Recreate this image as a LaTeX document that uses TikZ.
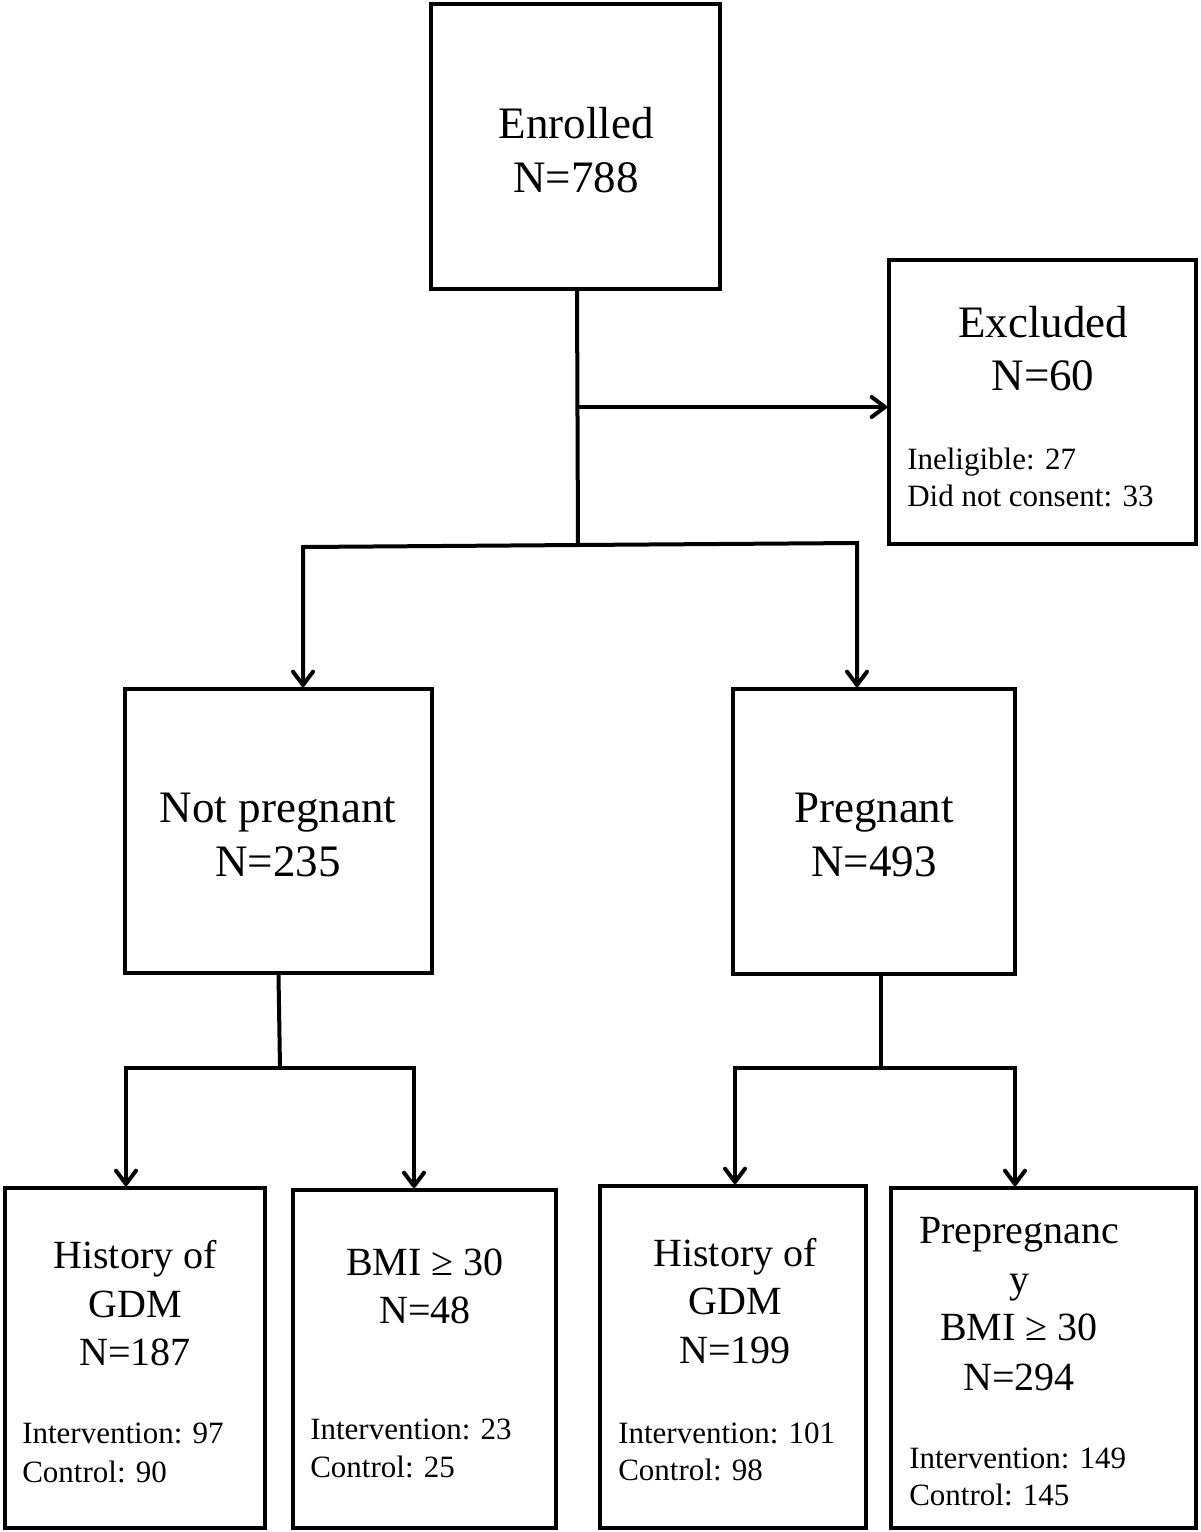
\documentclass[tikz,border=0pt]{standalone}
\usepackage{fontspec}
\setmainfont{Liberation Serif}
\usetikzlibrary{arrows.meta,fit}
\begin{document}
\begin{tikzpicture}[x=0.75pt,y=-0.75pt,
  box/.style={draw, line width=3pt, inner sep=0pt},
  conn/.style={line width=3pt},
  arr/.style={conn, -{Straight Barb[length=10pt,width=15pt,line cap=round,line join=round]}},
  big/.style={font=\fontsize{33.75}{40.5}\selectfont, anchor=base, inner sep=0pt},
  med/.style={font=\fontsize{30}{36}\selectfont, anchor=base, inner sep=0pt},
  small/.style={font=\fontsize{23.25}{28}\selectfont, anchor=base west, inner sep=0pt},
]
\useasboundingbox (0,0) rectangle (1200,1532);

% boxes
\node[box, fit={(431,4) (720,289)}] (enr) {};
\node[box, fit={(889,260) (1196,544)}] (exc) {};
\node[box, fit={(125,689) (432,973)}] (np) {};
\node[box, fit={(733,689) (1015,974)}] (pr) {};
\node[box, fit={(5,1188) (265,1528)}] (h1) {};
\node[box, fit={(293,1190) (556,1528)}] (bmi) {};
\node[box, fit={(600,1186) (866,1528)}] (h2) {};
\node[box, fit={(891,1188) (1196,1528)}] (pp) {};

% texts
\node[big] (t-enr1) at (576,138) {Enrolled};
\node[big] (t-enr2) at (576,192) {N=788};
\node[big] (t-exc1) at (1043,337) {Excluded};
\node[big] (t-exc2) at (1043,390) {N=60};
\node[small] (t-exc3) at (907,469) {Ineligible: 27};
\node[small] (t-exc4) at (907,506) {Did not consent: 33};
\node[big] (t-np1) at (278,822) {Not pregnant};
\node[big] (t-np2) at (278,876) {N=235};
\node[big] (t-pr1) at (874,822) {Pregnant};
\node[big] (t-pr2) at (874,876) {N=493};

\node[med] (t-h11) at (135,1268) {History of};
\node[med] (t-h12) at (135,1317) {GDM};
\node[med] (t-h13) at (135,1365) {N=187};
\node[small] (t-h14) at (22,1443) {Intervention: 97};
\node[small] (t-h15) at (22,1482) {Control: 90};

\node[med] (t-b1) at (425,1275) {BMI ≥ 30};
\node[med] (t-b2) at (425,1323) {N=48};
\node[small] (t-b3) at (310,1439) {Intervention: 23};
\node[small] (t-b4) at (310,1477) {Control: 25};

\node[med] (t-h21) at (735,1266) {History of};
\node[med] (t-h22) at (735,1314) {GDM};
\node[med] (t-h23) at (735,1363) {N=199};
\node[small] (t-h24) at (618,1443) {Intervention: 101};
\node[small] (t-h25) at (618,1480) {Control: 98};

\node[med] (t-p1) at (1019,1243) {Prepregnanc};
\node[med] (t-p2) at (1019,1292) {y};
\node[med] (t-p3) at (1019,1340) {BMI ≥ 30};
\node[med] (t-p4) at (1019,1390) {N=294};
\node[small] (t-p5) at (909,1468) {Intervention: 149};
\node[small] (t-p6) at (909,1505) {Control: 145};

% junctions
\coordinate (e1) at (578,407);
\coordinate (j1) at (578,545);
\coordinate (jl) at (303,547);
\coordinate (jr) at (857,543);
\coordinate (j2) at (280,1068);
\coordinate (j2l) at (126,1068);
\coordinate (j2r) at (414,1068);
\coordinate (j3) at (881,1068);
\coordinate (j3l) at (735,1068);
\coordinate (j3r) at (1015,1068);

% connectors
\draw[conn] (enr.south -| 577,0) -- (j1);
\draw[arr] (e1) -- (e1 -| exc.west);
\draw[arr] (j1) -- (jl) -- (jl |- np.north);
\draw[arr] (j1) -- (jr) -- (jr |- pr.north);

\draw[conn] (np.south) -- (j2);
\draw[arr] (j2) -- (j2l) -- (j2l |- h1.north);
\draw[arr] (j2) -- (j2r) -- (j2r |- bmi.north);

\draw[conn] (j3 |- pr.south) -- (j3);
\draw[arr] (j3) -- (j3l) -- (j3l |- h2.north);
\draw[arr] (j3) -- (j3r) -- (j3r |- pp.north);
\end{tikzpicture}
\end{document}
